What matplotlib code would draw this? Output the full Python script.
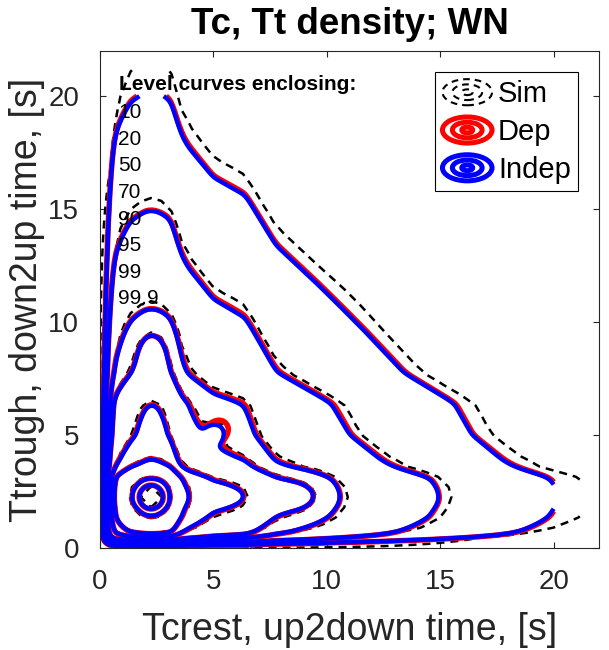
import numpy as np
import matplotlib
matplotlib.use('Agg')
import matplotlib.pyplot as plt
from matplotlib.patches import Ellipse
from matplotlib.legend_handler import HandlerBase
from matplotlib.lines import Line2D

plt.rcParams['font.family'] = ['Liberation Sans', 'DejaVu Sans']
plt.rcParams['lines.dashed_pattern'] = [3.2, 2.4]

title = 'Tc, Tt density; WN'
xlabel = 'Tcrest, up2down time, [s]'
ylabel = 'Ttrough, down2up time, [s]'
level_heading = 'Level curves enclosing:'
level_pcts = [10, 20, 50, 70, 90, 95, 99, 99.9]
level_labels = ['10', '20', '50', '70', '90', '95', '99', '99.9']
series_names = ['Sim', 'Dep', 'Indep']
ticks = [0, 5, 10, 15, 20]

t_knots = [0.0, 0.05, 0.12, 0.20, 0.30, 0.44, 0.60, 1.00, 1.35, 1.85, 2.05, 2.25,
           2.45, 2.65, 2.85, 3.15, 3.30, 3.60, 3.90, 5.00, 6.40, 7.75, 9.60,
           10.70, 15.05, 20.0, 22.0]
logm_indep = [-12.0, -8.3, -5.9, -3.9, -3.1, -1.66, -0.87, -0.45, -0.19, -0.05, -0.01, 0.0,
              -0.01, -0.04, -0.09, -0.19, -0.43, -0.83, -1.05, -1.62, -1.96, -2.88, -3.6,
              -4.05, -5.85, -7.97, -8.7]
logm_dep = [-12.0, -8.2, -5.8, -3.85, -3.05, -1.62, -0.85, -0.44, -0.18, -0.05, -0.01, 0.0,
            -0.01, -0.04, -0.08, -0.18, -0.41, -0.8, -1.02, -1.6, -1.93, -2.85, -3.57,
            -4.02, -5.82, -7.92, -8.7]
logm_sim = [-12.0, -8.2, -5.8, -3.85, -3.05, -1.62, -0.85, -0.44, -0.18, -0.05, -0.01, 0.0,
            -0.01, -0.04, -0.08, -0.18, -0.41, -0.8, -1.02, -1.6, -1.9, -2.8, -3.5,
            -3.9, -5.65, -7.6, -8.2]
# central peak (Tc, Tt, spread, height)
peak_indep = (2.25, 2.25, 0.3, 1.0)
peak_dep = (2.25, 2.25, 0.3, 1.0)
peak_sim = (2.25, 2.25, 0.3, 1.0)
# ridges along the axes (Tc, Tt, spread Tc, spread Tt, height); mirrored in Tc=Tt
ridge_tc = [2.3, 2.3]
ridge_tt = [5.5, 8.8]
ridge_stc = [0.5, 0.55]
ridge_stt = [1.2, 0.8]
ridge_h = [0.065, 0.028]
# local bump on the diagonal (Tc, Tt, spread, height)
bump_indep = (5.15, 5.1, 0.32, 0.028)
bump_dep = (5.35, 5.3, 0.42, 0.026)
bump_sim = (5.3, 5.3, 0.45, 0.018)
# evaluation grids (upper limit, step)
grid_indep = (20.0, 0.05)
grid_dep = (20.0, 0.08)
grid_sim = (21.15, 0.45)


def log_marginal(t, vals):
    fine = np.arange(-1.0, 23.0, 0.01)
    lv = np.interp(fine, t_knots, vals)
    k = np.arange(-40, 41) * 0.01
    ker = np.exp(-0.5 * (k / 0.12) ** 2)
    ker /= ker.sum()
    pad = np.concatenate([np.full(40, lv[0]), lv, np.full(40, lv[-1])])
    sm = np.convolve(pad, ker, mode='valid')
    return np.interp(t, fine, sm)


def gauss2(X, Y, bx, by, sx, sy, h):
    return h * (np.exp(-0.5 * (((X - bx) / sx) ** 2 + ((Y - by) / sy) ** 2)) +
                np.exp(-0.5 * (((X - by) / sy) ** 2 + ((Y - bx) / sx) ** 2))) / 2


def density(vals, peak, bump, grid):
    top, step = grid
    g = np.arange(0.0, top + 1e-9, step)
    lx = log_marginal(g, vals)
    X, Y = np.meshgrid(g, g)
    F = np.exp(lx[None, :] + lx[:, None])
    F = F + gauss2(X, Y, peak[0], peak[1], peak[2], peak[2], peak[3])
    F = F + gauss2(X, Y, bump[0], bump[1], bump[2], bump[2], bump[3])
    for rx, ry, sx, sy, h in zip(ridge_tc, ridge_tt, ridge_stc, ridge_stt, ridge_h):
        F = F + 2 * gauss2(X, Y, rx, ry, sx, sy, h)
    return X, Y, F


def mass_levels(F, pcts):
    f = np.sort(F.ravel())[::-1]
    c = np.cumsum(f) / f.sum()
    lev = [f[np.searchsorted(c, p / 100.0)] for p in pcts]
    return sorted(set(lev))


fig = plt.figure(figsize=(6.09, 6.5), dpi=100)
ax = fig.add_axes([100 / 609, 102 / 650, 499 / 609, 497 / 650])

Xs, Ys, Fs = density(logm_sim, peak_sim, bump_sim, grid_sim)
ax.contour(Xs, Ys, Fs, levels=mass_levels(Fs, level_pcts), colors='k',
           linewidths=1.8, linestyles='--')
Xd, Yd, Fd = density(logm_dep, peak_dep, bump_dep, grid_dep)
ax.contour(Xd, Yd, Fd, levels=mass_levels(Fd, level_pcts), colors=[(1, 0, 0)],
           linewidths=4.0, linestyles='-')
Xi, Yi, Fi = density(logm_indep, peak_indep, bump_indep, grid_indep)
ax.contour(Xi, Yi, Fi, levels=mass_levels(Fi, level_pcts), colors=[(0, 0, 1)],
           linewidths=3.2, linestyles='-')

ax.set_xlim(0, 22)
ax.set_ylim(0, 22)
ax.set_xticks(ticks)
ax.set_yticks(ticks)
gray = '#262626'
ax.tick_params(direction='in', length=4, width=0.8, top=True, right=True,
               labelsize=20, colors=gray, pad=15)
for sp in ax.spines.values():
    sp.set_color(gray)
    sp.set_linewidth(0.8)
ax.set_xlabel(xlabel, fontsize=27, color=gray, labelpad=12)
ax.set_ylabel(ylabel, fontsize=27, color=gray, labelpad=2)
ax.set_title(title, fontsize=26.5, fontweight='bold', pad=12)

ax.text(0.85, 20.53, level_heading, fontsize=15, fontweight='bold', va='center', ha='left')
for i, lab in enumerate(level_labels):
    ax.text(0.8, 19.26 - 1.175 * i, lab, fontsize=15, va='center', ha='left')


class HandlerRings(HandlerBase):
    def __init__(self, color, lw, ls):
        super().__init__()
        self.color, self.lw, self.ls = color, lw, ls

    def create_artists(self, legend, orig_handle, xdescent, ydescent, width, height,
                       fontsize, trans):
        cx = width / 2 - xdescent
        cy = height / 2 - ydescent
        arts = []
        for frac in (1.0, 0.6, 0.22):
            e = Ellipse((cx, cy), width * frac, height * frac, fill=False,
                        edgecolor=self.color, linewidth=self.lw, linestyle=self.ls)
            e.set_transform(trans)
            arts.append(e)
        return arts


h_sim = Line2D([], [], color='k')
h_dep = Line2D([], [], color='r')
h_ind = Line2D([], [], color='b')
leg = ax.legend([h_sim, h_dep, h_ind], series_names,
                handler_map={h_sim: HandlerRings('k', 1.5, '--'),
                             h_dep: HandlerRings((1, 0, 0), 3.6, '-'),
                             h_ind: HandlerRings((0, 0, 1), 3.6, '-')},
                loc='upper right', bbox_to_anchor=(0.958, 0.958), borderaxespad=0,
                fontsize=21, handlelength=1.7, handleheight=1.0, handletextpad=0.2,
                labelspacing=0.3, borderpad=0.25, fancybox=False, framealpha=1,
                edgecolor='k')
leg.get_frame().set_linewidth(0.8)

fig.savefig('out.png', dpi=100)
